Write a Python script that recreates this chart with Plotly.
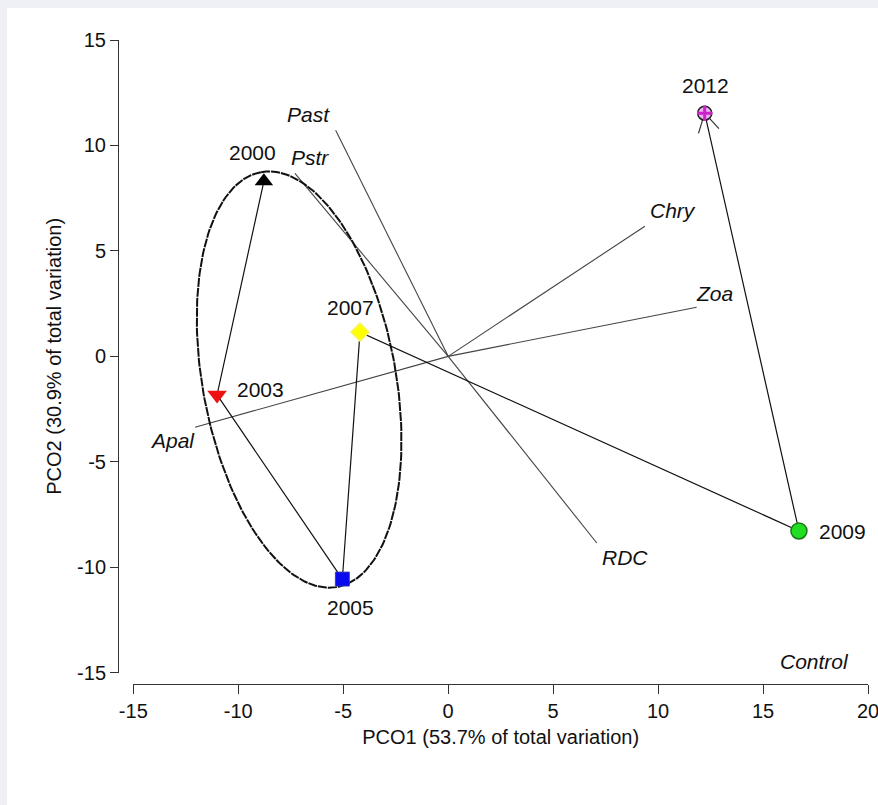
import numpy as np
import plotly.graph_objects as go

# ---------------- data ----------------
years = ["2000", "2003", "2005", "2007", "2009", "2012"]
pco1 = [-8.78, -11.01, -5.04, -4.20, 16.71, 12.22]
pco2 = [8.30, -1.83, -10.56, 1.15, -8.28, 11.53]

vec_names = ["Past", "Pstr", "Chry", "Zoa", "Apal", "RDC"]
vec_x = [-5.36, -7.30, 9.37, 11.84, -12.06, 7.08]
vec_y = [10.72, 8.68, 6.17, 2.33, -3.36, -8.85]

x_ticks = [-15, -10, -5, 0, 5, 10, 15, 20]
y_ticks = [-15, -10, -5, 0, 5, 10, 15]

control_label = "Control"
control_x, control_y = 17.46, -14.49

# ellipse (group envelope) parameters
ell_cx, ell_cy = -7.1, -1.1
ell_a, ell_b = 10.0, 4.6
ell_angle_deg = 100.5

# ---------------- styles ----------------
marker_styles = {
    "2000": dict(symbol="triangle-up", size=16, color="#000000", line=dict(width=0)),
    "2003": dict(symbol="triangle-down", size=17, color="#ee1111", line=dict(width=0)),
    "2005": dict(symbol="square", size=14, color="#0a0aee", line=dict(width=0.8, color="#3333aa")),
    "2007": dict(symbol="diamond", size=14, color="#ffff00", line=dict(width=1.5, color="#f4f46a")),
    "2009": dict(symbol="circle", size=16, color="#22dd22", line=dict(width=1.5, color="#1a7a1a")),
    "2012": dict(symbol="circle", size=14, color="#f0b0f0", line=dict(width=1.6, color="#222222")),
}
year_label_shift = {
    "2000": (-11, 29), "2003": (43, 5), "2005": (8, -28),
    "2007": (-10, 25), "2009": (44, -1), "2012": (1, 28),
}
vec_label_shift = {
    "Past": (-27, 16), "Pstr": (15, 16), "Chry": (28, 16),
    "Zoa": (18, 14), "Apal": (-23, -13), "RDC": (28, -14),
}

FONT = "Liberation Sans, Arial, sans-serif"
W, H = 878, 805
ML, MR, MT, MB = 118, 10, 40, 121

fig = go.Figure()

# vectors from origin
for name, vx, vy in zip(vec_names, vec_x, vec_y):
    fig.add_trace(go.Scatter(x=[0, vx], y=[0, vy], mode="lines",
                             line=dict(color="#444444", width=1.1),
                             hoverinfo="skip", showlegend=False))

# ellipse
t = np.linspace(0, 2 * np.pi, 240)
th = np.deg2rad(ell_angle_deg)
ex = ell_cx + ell_a * np.cos(th) * np.cos(t) - ell_b * np.sin(th) * np.sin(t)
ey = ell_cy + ell_a * np.sin(th) * np.cos(t) + ell_b * np.cos(th) * np.sin(t)
fig.add_trace(go.Scatter(x=ex, y=ey, mode="lines",
                         line=dict(color="#111111", width=2, dash="9px,1px"),
                         hoverinfo="skip", showlegend=False))

# trajectory
fig.add_trace(go.Scatter(x=pco1, y=pco2, mode="lines",
                         line=dict(color="#111111", width=1.2),
                         hoverinfo="skip", showlegend=False))

# arrowhead at the end of the trajectory (open chevron)
dx = pco1[-2] - pco1[-1]
dy = pco2[-2] - pco2[-1]
dn = np.hypot(dx, dy)
ux, uy = dx / dn, dy / dn
ah_len = 1.0
ah_x, ah_y = [], []
for ang in (np.deg2rad(30), np.deg2rad(-30)):
    rx = ux * np.cos(ang) - uy * np.sin(ang)
    ry = ux * np.sin(ang) + uy * np.cos(ang)
    ah_x += [pco1[-1], pco1[-1] + ah_len * rx, None]
    ah_y += [pco2[-1], pco2[-1] + ah_len * ry, None]
fig.add_trace(go.Scatter(x=ah_x, y=ah_y, mode="lines",
                         line=dict(color="#333333", width=1.2),
                         hoverinfo="skip", showlegend=False))

# year markers
for yr, px, py in zip(years, pco1, pco2):
    fig.add_trace(go.Scatter(x=[px], y=[py], mode="markers",
                             marker=marker_styles[yr], cliponaxis=False,
                             hoverinfo="skip", showlegend=False))
# magenta cross inside 2012 marker
fig.add_trace(go.Scatter(x=[pco1[-1]], y=[pco2[-1]], mode="markers",
                         marker=dict(symbol="cross-thin", size=11,
                                     line=dict(color="#cc22cc", width=3)),
                         cliponaxis=False, hoverinfo="skip", showlegend=False))

annotations = []
for yr, px, py in zip(years, pco1, pco2):
    sx, sy = year_label_shift[yr]
    annotations.append(dict(x=px, y=py, xref="x", yref="y", text=yr,
                            showarrow=False, xshift=sx, yshift=sy,
                            font=dict(family=FONT, size=21, color="#111111")))
for name, vx, vy in zip(vec_names, vec_x, vec_y):
    sx, sy = vec_label_shift[name]
    annotations.append(dict(x=vx, y=vy, xref="x", yref="y", text=name,
                            showarrow=False, xshift=sx, yshift=sy,
                            font=dict(family=FONT, size=21, color="#111111",
                                      style="italic")))
annotations.append(dict(x=control_x, y=control_y, xref="x", yref="y",
                        text=control_label, showarrow=False,
                        font=dict(family=FONT, size=21, color="#111111",
                                  style="italic")))

pw = W - ML - MR
ph = H - MT - MB
# grey page border strips (top and left)
shapes = [
    dict(type="rect", xref="paper", yref="paper",
         x0=-ML / pw, x1=(W - ML) / pw, y0=1 + (MT - 8) / ph, y1=1 + MT / ph,
         fillcolor="#eef0f6", line=dict(width=0), layer="below"),
    dict(type="rect", xref="paper", yref="paper",
         x0=-ML / pw, x1=-(ML - 7) / pw, y0=-MB / ph, y1=1 + MT / ph,
         fillcolor="#eef0f6", line=dict(width=0), layer="below"),
]

fig.update_layout(
    width=W, height=H,
    margin=dict(l=ML, r=MR, t=MT, b=MB, autoexpand=False),
    paper_bgcolor="#ffffff", plot_bgcolor="rgba(0,0,0,0)",
    font=dict(family=FONT, size=20, color="#111111"),
    showlegend=False,
    annotations=annotations,
    shapes=shapes,
    xaxis=dict(
        range=[-15, 20], domain=[(133.3 - ML) / pw, 1],
        anchor="free", position=0,
        tickmode="array", tickvals=x_ticks, ticktext=[str(v) for v in x_ticks],
        ticks="outside", ticklen=9, tickwidth=1, tickcolor="#333333",
        ticklabeloverflow="allow",
        showline=True, linecolor="#333333", linewidth=1,
        showgrid=False, zeroline=False,
        tickfont=dict(family=FONT, size=20, color="#111111"),
        title=dict(text="PCO1 (53.7% of total variation)", standoff=8,
                   font=dict(family=FONT, size=20, color="#111111")),
    ),
    yaxis=dict(
        range=[-15, 15], domain=[(684 - 672.7) / ph, 1],
        anchor="free", position=0,
        tickmode="array", tickvals=y_ticks, ticktext=[str(v) for v in y_ticks],
        ticks="outside", ticklen=8, tickwidth=1, tickcolor="#333333",
        showline=True, linecolor="#333333", linewidth=1,
        showgrid=False, zeroline=False,
        tickfont=dict(family=FONT, size=20, color="#111111"),
        title=dict(text="PCO2 (30.9% of total variation)", standoff=9,
                   font=dict(family=FONT, size=20, color="#111111")),
    ),
)

fig.write_html("out.html")
